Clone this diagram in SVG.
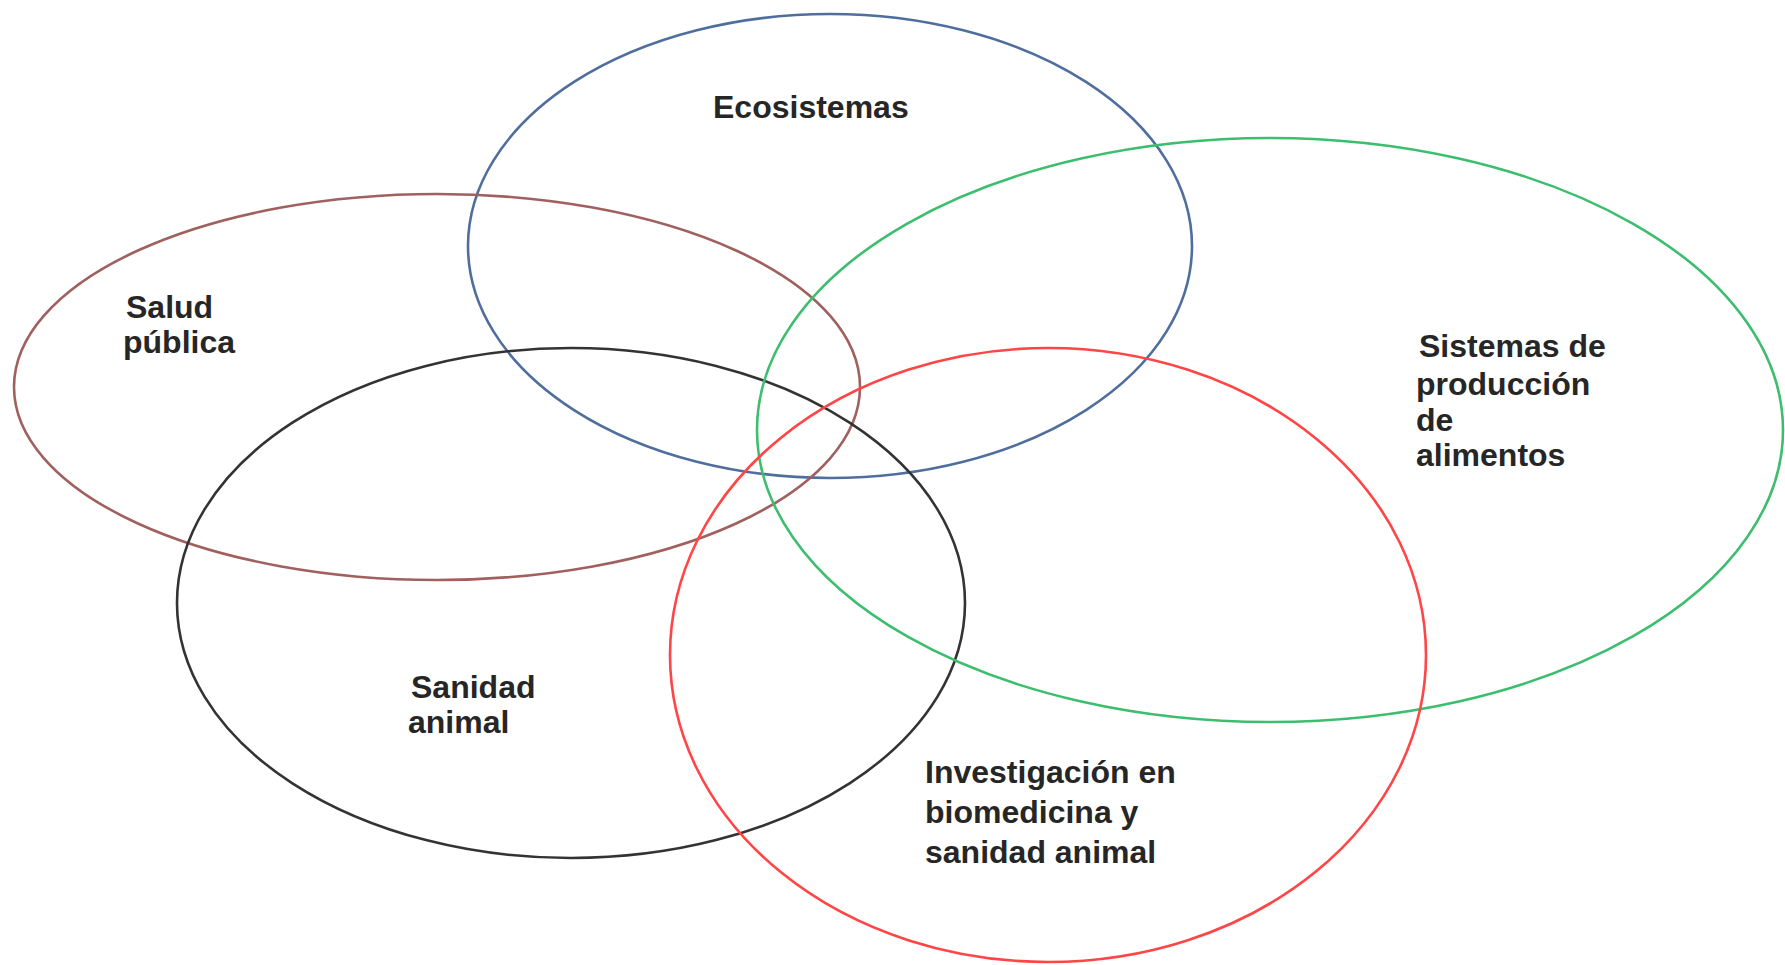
<svg xmlns="http://www.w3.org/2000/svg" width="1785" height="965" viewBox="0 0 1785 965">
<style>
.e{fill:none;stroke-width:2.6}
.t{font-family:"Liberation Sans",Arial,sans-serif;font-weight:bold;font-size:32px;fill:#262626}
</style>
<rect width="1785" height="965" fill="#fff"/>
<g id="connectors"/>
<g id="ecosistemas">
<ellipse class="e" stroke="#4F6E9E" cx="830" cy="246" rx="362" ry="232"/>
<text class="t" x="713" y="118">Ecosistemas</text>
</g>
<g id="salud-publica">
<ellipse class="e" stroke="#A0605E" cx="437" cy="387" rx="423" ry="193"/>
<text class="t" x="126" y="318">Salud</text>
<text class="t" x="123" y="353">pública</text>
</g>
<g id="sanidad-animal">
<ellipse class="e" stroke="#333333" cx="571" cy="603" rx="394" ry="255"/>
<text class="t" x="411" y="698">Sanidad</text>
<text class="t" x="408" y="733">animal</text>
</g>
<g id="sistemas-produccion">
<ellipse class="e" stroke="#3CBE6E" cx="1270" cy="430" rx="513" ry="292"/>
<text class="t" x="1419" y="357">Sistemas de</text>
<text class="t" x="1416" y="395">producción</text>
<text class="t" x="1416" y="431">de</text>
<text class="t" x="1416" y="466">alimentos</text>
</g>
<g id="investigacion">
<ellipse class="e" stroke="#FF4545" cx="1048" cy="655" rx="378" ry="307"/>
<text class="t" x="925" y="783">Investigación en</text>
<text class="t" x="925" y="823">biomedicina y</text>
<text class="t" x="925" y="863">sanidad animal</text>
</g>
</svg>
